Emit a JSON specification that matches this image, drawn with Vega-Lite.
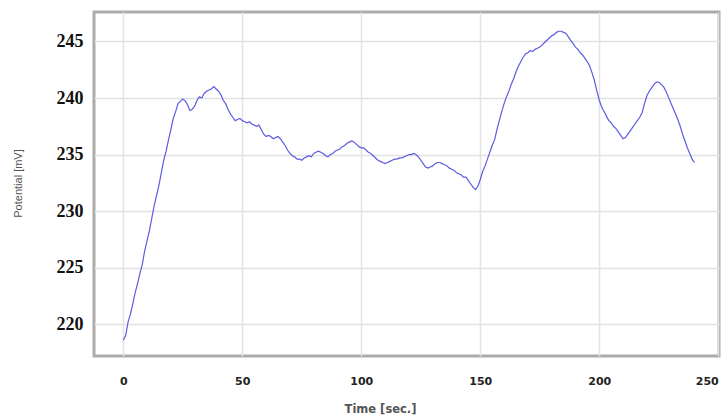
{
  "$schema": "https://vega.github.io/schema/vega-lite/v6.json",
  "autosize": {"type": "none"},
  "padding": {"left": 94, "top": 12, "right": 5, "bottom": 63},
  "width": 625,
  "height": 344,
  "background": "white",
  "config": {
    "view": {"stroke": "#ababab", "strokeWidth": 3},
    "axis": {
      "grid": true,
      "gridColor": "#e2e2e2",
      "gridWidth": 1.5,
      "domain": false,
      "ticks": false
    }
  },
  "data": {
    "values": [
      {"t": 0, "v": 218.6}, {"t": 1, "v": 219.0}, {"t": 2, "v": 220.2}, {"t": 3, "v": 220.9}, {"t": 4, "v": 221.8}, {"t": 5, "v": 222.8}, {"t": 6, "v": 223.6}, {"t": 7, "v": 224.5},
      {"t": 8, "v": 225.3}, {"t": 9, "v": 226.5}, {"t": 10, "v": 227.4}, {"t": 11, "v": 228.3}, {"t": 12, "v": 229.4}, {"t": 13, "v": 230.5}, {"t": 14, "v": 231.4}, {"t": 15, "v": 232.3},
      {"t": 16, "v": 233.4}, {"t": 17, "v": 234.5}, {"t": 18, "v": 235.3}, {"t": 19, "v": 236.3}, {"t": 20, "v": 237.2}, {"t": 21, "v": 238.2}, {"t": 22, "v": 238.8}, {"t": 23, "v": 239.5},
      {"t": 24, "v": 239.7}, {"t": 25, "v": 239.9}, {"t": 26, "v": 239.75}, {"t": 27, "v": 239.4}, {"t": 28, "v": 238.9}, {"t": 29, "v": 239.0}, {"t": 30, "v": 239.3}, {"t": 31, "v": 239.8},
      {"t": 32, "v": 240.1}, {"t": 33, "v": 240.0}, {"t": 34, "v": 240.4}, {"t": 35, "v": 240.6}, {"t": 36, "v": 240.7}, {"t": 37, "v": 240.8}, {"t": 38, "v": 241.0}, {"t": 39, "v": 240.8},
      {"t": 40, "v": 240.6}, {"t": 41, "v": 240.3}, {"t": 42, "v": 239.8}, {"t": 43, "v": 239.5}, {"t": 44, "v": 239.0}, {"t": 45, "v": 238.6}, {"t": 46, "v": 238.3}, {"t": 47, "v": 238.0},
      {"t": 48, "v": 238.1}, {"t": 49, "v": 238.2}, {"t": 50, "v": 238.0}, {"t": 51, "v": 237.9}, {"t": 52, "v": 237.8}, {"t": 53, "v": 237.9}, {"t": 54, "v": 237.7}, {"t": 55, "v": 237.6},
      {"t": 56, "v": 237.5}, {"t": 57, "v": 237.6}, {"t": 58, "v": 237.2}, {"t": 59, "v": 236.8}, {"t": 60, "v": 236.6}, {"t": 61, "v": 236.7}, {"t": 62, "v": 236.6}, {"t": 63, "v": 236.4},
      {"t": 64, "v": 236.5}, {"t": 65, "v": 236.6}, {"t": 66, "v": 236.4}, {"t": 67, "v": 236.1}, {"t": 68, "v": 235.8}, {"t": 69, "v": 235.4}, {"t": 70, "v": 235.1}, {"t": 71, "v": 234.9},
      {"t": 72, "v": 234.8}, {"t": 73, "v": 234.6}, {"t": 74, "v": 234.6}, {"t": 75, "v": 234.5}, {"t": 76, "v": 234.7}, {"t": 77, "v": 234.8}, {"t": 78, "v": 234.9}, {"t": 79, "v": 234.8},
      {"t": 80, "v": 235.1}, {"t": 81, "v": 235.2}, {"t": 82, "v": 235.3}, {"t": 83, "v": 235.2}, {"t": 84, "v": 235.1}, {"t": 85, "v": 234.9}, {"t": 86, "v": 234.8}, {"t": 87, "v": 235.0},
      {"t": 88, "v": 235.1}, {"t": 89, "v": 235.3}, {"t": 90, "v": 235.4}, {"t": 91, "v": 235.5}, {"t": 92, "v": 235.7}, {"t": 93, "v": 235.8}, {"t": 94, "v": 236.0}, {"t": 95, "v": 236.1},
      {"t": 96, "v": 236.2}, {"t": 97, "v": 236.1}, {"t": 98, "v": 235.9}, {"t": 99, "v": 235.7}, {"t": 100, "v": 235.6}, {"t": 101, "v": 235.6}, {"t": 102, "v": 235.4}, {"t": 103, "v": 235.2},
      {"t": 104, "v": 235.1}, {"t": 105, "v": 234.9}, {"t": 106, "v": 234.7}, {"t": 107, "v": 234.5}, {"t": 108, "v": 234.4}, {"t": 109, "v": 234.3}, {"t": 110, "v": 234.2}, {"t": 111, "v": 234.3},
      {"t": 112, "v": 234.4}, {"t": 113, "v": 234.5}, {"t": 114, "v": 234.6}, {"t": 115, "v": 234.6}, {"t": 116, "v": 234.7}, {"t": 117, "v": 234.7}, {"t": 118, "v": 234.8}, {"t": 119, "v": 234.9},
      {"t": 120, "v": 235.0}, {"t": 121, "v": 235.0}, {"t": 122, "v": 235.1}, {"t": 123, "v": 235.0}, {"t": 124, "v": 234.8}, {"t": 125, "v": 234.5}, {"t": 126, "v": 234.2}, {"t": 127, "v": 233.9},
      {"t": 128, "v": 233.8}, {"t": 129, "v": 233.9}, {"t": 130, "v": 234.0}, {"t": 131, "v": 234.2}, {"t": 132, "v": 234.3}, {"t": 133, "v": 234.3}, {"t": 134, "v": 234.2}, {"t": 135, "v": 234.1},
      {"t": 136, "v": 234.0}, {"t": 137, "v": 233.8}, {"t": 138, "v": 233.7}, {"t": 139, "v": 233.6}, {"t": 140, "v": 233.4}, {"t": 141, "v": 233.3}, {"t": 142, "v": 233.2}, {"t": 143, "v": 233.0},
      {"t": 144, "v": 233.0}, {"t": 145, "v": 232.7}, {"t": 146, "v": 232.4}, {"t": 147, "v": 232.1}, {"t": 148, "v": 231.9}, {"t": 149, "v": 232.2}, {"t": 150, "v": 232.8}, {"t": 151, "v": 233.5},
      {"t": 152, "v": 234.0}, {"t": 153, "v": 234.6}, {"t": 154, "v": 235.2}, {"t": 155, "v": 235.8}, {"t": 156, "v": 236.3}, {"t": 157, "v": 237.2}, {"t": 158, "v": 238.0}, {"t": 159, "v": 238.8},
      {"t": 160, "v": 239.5}, {"t": 161, "v": 240.1}, {"t": 162, "v": 240.6}, {"t": 163, "v": 241.2}, {"t": 164, "v": 241.7}, {"t": 165, "v": 242.3}, {"t": 166, "v": 242.8}, {"t": 167, "v": 243.2},
      {"t": 168, "v": 243.6}, {"t": 169, "v": 243.9}, {"t": 170, "v": 244.0}, {"t": 171, "v": 244.2}, {"t": 172, "v": 244.1}, {"t": 173, "v": 244.3}, {"t": 174, "v": 244.4}, {"t": 175, "v": 244.5},
      {"t": 176, "v": 244.7}, {"t": 177, "v": 244.9}, {"t": 178, "v": 245.1}, {"t": 179, "v": 245.3}, {"t": 180, "v": 245.5}, {"t": 181, "v": 245.6}, {"t": 182, "v": 245.8}, {"t": 183, "v": 245.9},
      {"t": 184, "v": 245.9}, {"t": 185, "v": 245.8}, {"t": 186, "v": 245.7}, {"t": 187, "v": 245.4}, {"t": 188, "v": 245.1}, {"t": 189, "v": 244.8}, {"t": 190, "v": 244.5}, {"t": 191, "v": 244.3},
      {"t": 192, "v": 244.0}, {"t": 193, "v": 243.8}, {"t": 194, "v": 243.5}, {"t": 195, "v": 243.2}, {"t": 196, "v": 242.8}, {"t": 197, "v": 242.2}, {"t": 198, "v": 241.5}, {"t": 199, "v": 240.6},
      {"t": 200, "v": 239.8}, {"t": 201, "v": 239.2}, {"t": 202, "v": 238.8}, {"t": 203, "v": 238.4}, {"t": 204, "v": 238.0}, {"t": 205, "v": 237.8}, {"t": 206, "v": 237.5}, {"t": 207, "v": 237.3},
      {"t": 208, "v": 237.0}, {"t": 209, "v": 236.7}, {"t": 210, "v": 236.4}, {"t": 211, "v": 236.5}, {"t": 212, "v": 236.8}, {"t": 213, "v": 237.1}, {"t": 214, "v": 237.4}, {"t": 215, "v": 237.7},
      {"t": 216, "v": 238.0}, {"t": 217, "v": 238.3}, {"t": 218, "v": 238.7}, {"t": 219, "v": 239.5}, {"t": 220, "v": 240.2}, {"t": 221, "v": 240.6}, {"t": 222, "v": 240.9}, {"t": 223, "v": 241.2},
      {"t": 224, "v": 241.4}, {"t": 225, "v": 241.4}, {"t": 226, "v": 241.2}, {"t": 227, "v": 241.0}, {"t": 228, "v": 240.6}, {"t": 229, "v": 240.1}, {"t": 230, "v": 239.6}, {"t": 231, "v": 239.1},
      {"t": 232, "v": 238.6}, {"t": 233, "v": 238.1}, {"t": 234, "v": 237.5}, {"t": 235, "v": 236.8}, {"t": 236, "v": 236.2}, {"t": 237, "v": 235.6}, {"t": 238, "v": 235.1}, {"t": 239, "v": 234.6},
      {"t": 240, "v": 234.3}
    ]
  },
  "mark": {"type": "line", "color": "#5c5ce0", "strokeWidth": 1.2, "clip": true},
  "encoding": {
    "x": {
      "field": "t",
      "type": "quantitative",
      "scale": {"domain": [-12.3, 250.3], "nice": false, "zero": false},
      "axis": {
        "values": [0, 50, 100, 150, 200, 250],
        "title": "Time [sec.]",
        "titleFont": "DejaVu Sans",
        "titleFontWeight": "bold",
        "titleFontSize": 11.5,
        "titleColor": "#555555",
        "titleX": 286,
        "titleY": 53,
        "titleAlign": "center",
        "titleBaseline": "middle",
        "labelFont": "DejaVu Sans",
        "labelFontWeight": "bold",
        "labelFontSize": 11,
        "labelColor": "#222222",
        "labelPadding": 19,
        "labelOverlap": false,
        "labelFlush": true
      }
    },
    "y": {
      "field": "v",
      "type": "quantitative",
      "scale": {"domain": [217.2, 247.6], "nice": false, "zero": false},
      "axis": {
        "values": [220, 225, 230, 235, 240, 245],
        "title": "Potential [mV]",
        "titleFont": "Liberation Sans",
        "titleFontWeight": "normal",
        "titleFontSize": 11,
        "titleColor": "#555555",
        "titleX": -76,
        "titleY": 171,
        "titleAlign": "center",
        "titleBaseline": "middle",
        "titleAngle": -90,
        "labelFont": "Liberation Serif",
        "labelFontWeight": "bold",
        "labelFontSize": 18,
        "labelColor": "#111111",
        "labelPadding": 11,
        "labelFlush": false
      }
    }
  }
}
